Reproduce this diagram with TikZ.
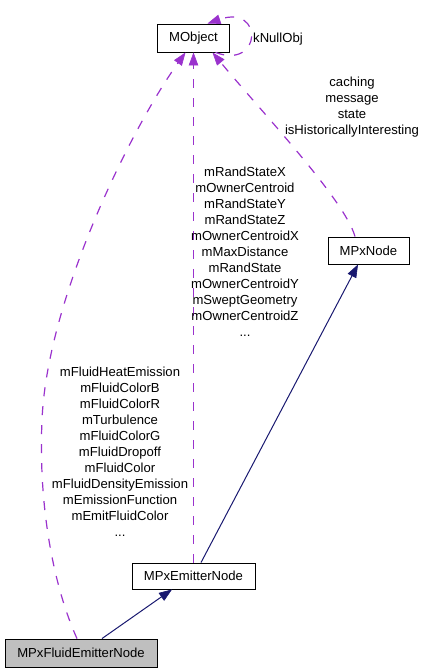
\documentclass[tikz,border=0pt]{standalone}
\usepackage{fontspec}
\setmainfont{Liberation Sans}
\usetikzlibrary{arrows.meta}
\definecolor{edgepurple}{HTML}{9A32CD}
\definecolor{edgenavy}{HTML}{191970}
\definecolor{boxgrey}{HTML}{BFBFBF}
\begin{document}
\begin{tikzpicture}[x=1pt,y=-1pt,
  cls/.style={draw=black,line width=0.9pt,inner sep=0pt,font=\fontsize{13.1}{16}\selectfont},
  lbl/.style={inner sep=0pt,align=center,font=\fontsize{13.1}{16}\selectfont},
  usage/.style={draw=edgepurple,line width=1.2pt,dash pattern=on 9pt off 10pt,
     -{Triangle[length=13pt,width=9.5pt,fill=edgepurple,line width=0.6pt]}},
  inherit/.style={draw=edgenavy,line width=1pt,
     -{Triangle[length=13pt,width=9.5pt,fill=edgenavy,line width=0.6pt]}}]
\useasboundingbox (0,0) rectangle (426,672);
\node[cls,minimum width=72pt,minimum height=28pt] (mobject) at (193.5,38) {MObject};
\node[cls,minimum width=81pt,minimum height=27pt] (mpxnode) at (368.5,250.5) {MPxNode};
\node[cls,minimum width=123pt,minimum height=26pt] (emitter) at (193.5,576) {MPxEmitterNode};
\node[cls,fill=boxgrey,minimum width=152pt,minimum height=28pt] (fluid) at (81,653) {MPxFluidEmitterNode};
% self loop
\draw[usage] ([xshift=22pt]mobject.south) .. controls (262,70) and (264,4) .. ([xshift=14pt]mobject.north);
\node[lbl,anchor=west] (knull) at (253,39) {kNullObj};
% MPxNode -> MObject
\draw[usage] ([xshift=-13.5pt]mpxnode.north) .. controls (345,200) and (260,110) .. ([xshift=19pt]mobject.south);
\node[lbl] (lblnode) at (352,107) {caching\\message\\state\\isHistoricallyInteresting};
% Emitter -> MObject
\draw[usage] (emitter.north -| mobject.south) -- (mobject.south);
\node[lbl] (lblemit) at (245,252) {mRandStateX\\mOwnerCentroid\\mRandStateY\\mRandStateZ\\mOwnerCentroidX\\mMaxDistance\\mRandState\\mOwnerCentroidY\\mSweptGeometry\\mOwnerCentroidZ\\...};
% Fluid -> MObject
\draw[usage] ([xshift=-4pt]fluid.north) .. controls (55,590) and (38,510) .. (42,420) .. controls (47,300) and (130,130) .. ([xshift=-8pt]mobject.south);
\node[lbl] (lblfluid) at (120,452) {mFluidHeatEmission\\mFluidColorB\\mFluidColorR\\mTurbulence\\mFluidColorG\\mFluidDropoff\\mFluidColor\\mFluidDensityEmission\\mEmissionFunction\\mEmitFluidColor\\...};
% inheritance
\draw[inherit] ([xshift=7.5pt]emitter.north) -- ([xshift=-10.5pt]mpxnode.south);
\draw[inherit] ([xshift=21pt]fluid.north) -- ([xshift=-21.5pt]emitter.south);
\end{tikzpicture}
\end{document}
